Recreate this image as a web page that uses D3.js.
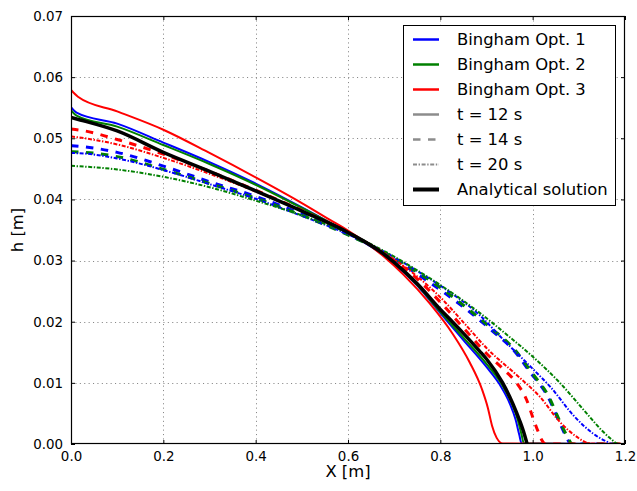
<!DOCTYPE html>
<html>
<head>
<meta charset="utf-8">
<script src="https://cdn.jsdelivr.net/npm/d3@7"></script>
<style>
  body { margin: 0; background: #fff; }
  svg text { font-family: "DejaVu Sans", sans-serif; fill: #000; }
  .tick text { font-size: 13.4px; }
  .big { font-size: 16.4px; }
</style>
</head>
<body>
<svg id="chart" width="637" height="491"></svg>
<script>
// tick values
const xTicks = [0, 0.2, 0.4, 0.6, 0.8, 1.0, 1.2];
const yTicks = [0, 0.01, 0.02, 0.03, 0.04, 0.05, 0.06, 0.07];

// free surface profiles [X, h]
const opt1T12 = [[0, 0.0551], [0.012, 0.0542], [0.1, 0.0524], [0.2, 0.0493], [0.3, 0.0461], [0.4, 0.0426], [0.5, 0.0387], [0.6, 0.0345], [0.677, 0.0309], [0.7, 0.0295], [0.75, 0.0259], [0.8, 0.0214], [0.85, 0.0170], [0.9, 0.0126], [0.928, 0.0098], [0.95, 0.0067], [0.963, 0.0040], [0.971, 0.0015], [0.976, 0.0001], [1.2, 0]];
const opt2T12 = [[0, 0.0546], [0.012, 0.0537], [0.1, 0.0519], [0.2, 0.0489], [0.3, 0.0458], [0.4, 0.0424], [0.5, 0.0386], [0.6, 0.0346], [0.677, 0.0310], [0.7, 0.0296], [0.75, 0.0260], [0.8, 0.0216], [0.85, 0.0174], [0.9, 0.0131], [0.932, 0.0099], [0.955, 0.0066], [0.968, 0.0039], [0.976, 0.0015], [0.981, 0.0001], [1.2, 0]];
const opt3T12 = [[0, 0.0579], [0.015, 0.0568], [0.1, 0.0544], [0.2, 0.0514], [0.3, 0.0476], [0.4, 0.0436], [0.5, 0.0394], [0.56, 0.0367], [0.6, 0.0349], [0.677, 0.0307], [0.72, 0.0277], [0.777, 0.0230], [0.827, 0.0180], [0.864, 0.0133], [0.89, 0.0090], [0.903, 0.0059], [0.912, 0.0030], [0.922, 0.0010], [0.935, 0.0001], [1.2, 0]];

const opt1T14 = [[0, 0.0488], [0.03, 0.0486], [0.1, 0.0477], [0.214, 0.0451], [0.3, 0.0429], [0.4, 0.0405], [0.5, 0.0376], [0.6, 0.0343], [0.677, 0.0313], [0.75, 0.0278], [0.8, 0.0252], [0.85, 0.0224], [0.911, 0.0186], [0.958, 0.0154], [1.001, 0.0111], [1.019, 0.0094], [1.034, 0.0076], [1.045, 0.0058], [1.059, 0.0034], [1.074, 0.0010], [1.083, 0], [1.2, 0]];
const opt2T14 = [[0, 0.0478], [0.03, 0.0477], [0.1, 0.0470], [0.214, 0.0446], [0.3, 0.0426], [0.4, 0.0402], [0.5, 0.0374], [0.6, 0.0342], [0.677, 0.0314], [0.75, 0.0281], [0.8, 0.0256], [0.85, 0.0227], [0.911, 0.0189], [0.958, 0.0157], [1.001, 0.0114], [1.034, 0.0079], [1.059, 0.0037], [1.076, 0.0011], [1.086, 0], [1.2, 0]];
const opt3T14 = [[0, 0.0515], [0.03, 0.0512], [0.1, 0.0498], [0.2, 0.0474], [0.3, 0.0446], [0.4, 0.0415], [0.5, 0.0382], [0.6, 0.0346], [0.677, 0.0312], [0.75, 0.0270], [0.8, 0.0232], [0.85, 0.0190], [0.9, 0.0148], [0.94, 0.0120], [0.965, 0.0100], [0.987, 0.0072], [1.001, 0.0042], [1.012, 0.0020], [1.02, 0.0006], [1.028, 0], [1.2, 0]];

const opt1T20 = [[0, 0.0476], [0.03, 0.0475], [0.1, 0.0467], [0.214, 0.0445], [0.3, 0.0425], [0.4, 0.0401], [0.5, 0.0373], [0.6, 0.0343], [0.677, 0.0315], [0.75, 0.0283], [0.8, 0.0259], [0.886, 0.0210], [0.94, 0.0168], [1.0, 0.0123], [1.04, 0.0092], [1.088, 0.0047], [1.131, 0.0017], [1.16, 0.0004], [1.172, 0], [1.2, 0]];
const opt2T20 = [[0, 0.0455], [0.1, 0.0449], [0.2, 0.0437], [0.3, 0.0420], [0.4, 0.0398], [0.5, 0.0374], [0.54, 0.0363], [0.6, 0.0345], [0.677, 0.0316], [0.75, 0.0284], [0.814, 0.0253], [0.886, 0.0214], [0.95, 0.0175], [1.0, 0.0143], [1.059, 0.0100], [1.117, 0.0050], [1.15, 0.0022], [1.17, 0.0008], [1.185, 0], [1.2, 0]];
const opt3T20 = [[0, 0.0503], [0.03, 0.0500], [0.1, 0.0490], [0.2, 0.0468], [0.3, 0.0442], [0.4, 0.0413], [0.5, 0.0381], [0.6, 0.0346], [0.677, 0.0313], [0.75, 0.0274], [0.8, 0.0240], [0.85, 0.0199], [0.9, 0.0157], [0.9725, 0.0108], [1.016, 0.0077], [1.059, 0.0036], [1.095, 0.0012], [1.124, 0.0001], [1.2, 0]];

const analytical = [[0, 0.0534], [0.02, 0.0530], [0.1, 0.0512], [0.2, 0.0477], [0.3, 0.0446], [0.4, 0.0414], [0.5, 0.0381], [0.6, 0.0346], [0.677, 0.0311], [0.7, 0.0297], [0.75, 0.0262], [0.8, 0.0220], [0.826, 0.0200], [0.85, 0.0181], [0.885, 0.0152], [0.9, 0.0139], [0.935, 0.0100], [0.957, 0.0066], [0.972, 0.0038], [0.982, 0.0016], [0.988, 0]];

const legendLabels = ['Bingham Opt. 1', 'Bingham Opt. 2', 'Bingham Opt. 3', 't = 12 s', 't = 14 s', 't = 20 s', 'Analytical solution'];

const BLUE = '#0000ff', GREEN = '#008000', RED = '#ff0000', GREY = '#8c8c8c';
const SOLID = null, DASH = '7.5,7.5', DASHDOT = '4,1.6,1.4,1.6';

const series = [
	{ data: opt1T12, color: BLUE, dash: SOLID, width: 2 },
	{ data: opt2T12, color: GREEN, dash: SOLID, width: 2 },
	{ data: opt3T12, color: RED, dash: SOLID, width: 2 },
	{ data: opt1T14, color: BLUE, dash: DASH, width: 3 },
	{ data: opt2T14, color: GREEN, dash: DASH, width: 3 },
	{ data: opt3T14, color: RED, dash: DASH, width: 3 },
	{ data: opt1T20, color: BLUE, dash: DASHDOT, width: 2 },
	{ data: opt2T20, color: GREEN, dash: DASHDOT, width: 2 },
	{ data: opt3T20, color: RED, dash: DASHDOT, width: 2 },
	{ data: analytical, color: '#000', dash: SOLID, width: 3.5 }
];

const legendStyles = [
	{ color: BLUE, dash: SOLID, width: 2.5 },
	{ color: GREEN, dash: SOLID, width: 2.5 },
	{ color: RED, dash: SOLID, width: 2.5 },
	{ color: GREY, dash: SOLID, width: 2.5 },
	{ color: GREY, dash: DASH, width: 2.5 },
	{ color: GREY, dash: DASHDOT, width: 2 },
	{ color: '#000', dash: SOLID, width: 4 }
];

const plotLeft = 71, plotRight = 625, plotTop = 16, plotBottom = 444;

const svg = d3.select('#chart');
svg.append('rect').attr('width', 637).attr('height', 491).attr('fill', '#fff');

const x = d3.scaleLinear().domain([0, 1.2]).range([plotLeft, plotRight]);
const y = d3.scaleLinear().domain([0, 0.07]).range([plotBottom, plotTop]);

// grid
const grid = svg.append('g')
		.attr('stroke', '#888')
		.attr('stroke-width', 1)
		.attr('stroke-dasharray', '1.1,3.3');
grid.selectAll('.gx').data(xTicks.slice(1, -1)).join('line')
		.attr('x1', d => Math.round(x(d)) + 0.5).attr('x2', d => Math.round(x(d)) + 0.5)
		.attr('y1', plotTop).attr('y2', plotBottom);
grid.selectAll('.gy').data(yTicks.slice(1, -1)).join('line')
		.attr('y1', d => Math.round(y(d)) + 0.5).attr('y2', d => Math.round(y(d)) + 0.5)
		.attr('x1', plotLeft).attr('x2', plotRight);

// profiles
svg.append('clipPath').attr('id', 'plot-clip')
		.append('rect').attr('x', plotLeft).attr('y', plotTop)
		.attr('width', plotRight - plotLeft).attr('height', plotBottom - plotTop);

const line = d3.line()
		.x(d => x(d[0]))
		.y(d => y(d[1]))
		.curve(d3.curveMonotoneX);

svg.append('g').attr('clip-path', 'url(#plot-clip)')
		.selectAll('path').data(series).join('path')
		.attr('d', d => line(d.data))
		.attr('fill', 'none')
		.attr('stroke', d => d.color)
		.attr('stroke-width', d => d.width)
		.attr('stroke-dasharray', d => d.dash)
		.attr('stroke-linejoin', 'round');

// axes, ticks pointing inward
const xAxis = d3.axisBottom(x).tickValues(xTicks).tickFormat(d3.format('.1f')).tickSize(-4).tickPadding(7);
const yAxis = d3.axisLeft(y).tickValues(yTicks).tickFormat(d3.format('.2f')).tickSize(-4).tickPadding(8);

function styleAxis(g) {
	g.select('.domain').remove();
	g.selectAll('.tick line').attr('stroke', '#000');
	g.attr('font-family', null).attr('font-size', null);
}

svg.append('g').attr('transform', `translate(0,${plotBottom})`).call(xAxis).call(styleAxis);
svg.append('g').attr('transform', `translate(${plotLeft},0)`).call(yAxis).call(styleAxis);
svg.append('g').attr('transform', `translate(0,${plotTop})`)
		.call(d3.axisTop(x).tickValues(xTicks).tickFormat('').tickSize(-4)).call(styleAxis);
svg.append('g').attr('transform', `translate(${plotRight},0)`)
		.call(d3.axisRight(y).tickValues(yTicks).tickFormat('').tickSize(-4)).call(styleAxis);

svg.append('rect')
		.attr('x', plotLeft + 0.5).attr('y', plotTop + 0.5)
		.attr('width', plotRight - plotLeft - 1).attr('height', plotBottom - plotTop - 1)
		.attr('fill', 'none').attr('stroke', '#000').attr('stroke-width', 1.2);

// axis labels
svg.append('text').attr('class', 'big')
		.attr('x', (plotLeft + plotRight) / 2).attr('y', 477)
		.attr('text-anchor', 'middle')
		.text('X [m]');
svg.append('text').attr('class', 'big')
		.attr('transform', `translate(23,${(plotTop + plotBottom) / 2}) rotate(-90)`)
		.attr('text-anchor', 'middle')
		.text('h [m]');

// legend
const legend = svg.append('g').attr('transform', 'translate(403,25)');
legend.append('rect')
		.attr('x', 0.5).attr('y', 0.5)
		.attr('width', 212).attr('height', 180)
		.attr('fill', '#fff').attr('stroke', '#000');

const rows = legend.selectAll('.row').data(legendLabels).join('g')
		.attr('transform', (d, i) => `translate(0,${14.5 + i * 25})`);
rows.append('line')
		.attr('x1', 10).attr('x2', 36)
		.attr('stroke', (d, i) => legendStyles[i].color)
		.attr('stroke-width', (d, i) => legendStyles[i].width)
		.attr('stroke-dasharray', (d, i) => legendStyles[i].dash);
rows.append('text').attr('class', 'big')
		.attr('x', 54).attr('dy', '0.36em')
		.text(d => d);
</script>
</body>
</html>
